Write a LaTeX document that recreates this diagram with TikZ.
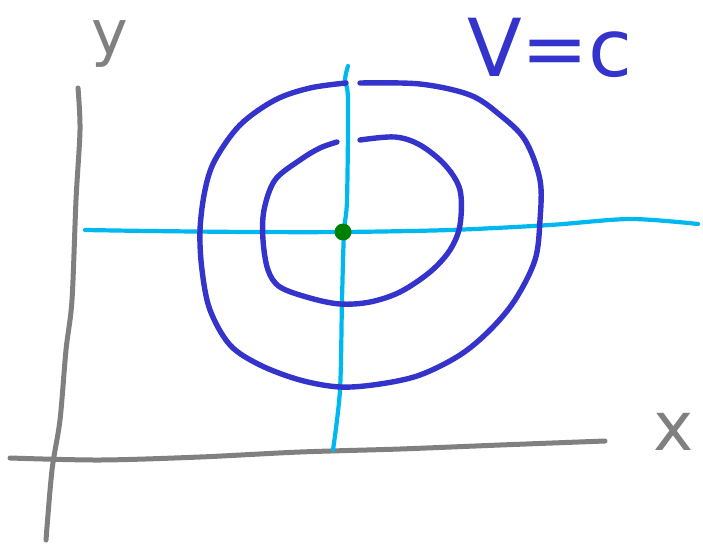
\documentclass[tikz,border=0pt]{standalone}
\usepackage{fontspec}
\setsansfont{DejaVu Sans}
\definecolor{penblue}{RGB}{52,52,204}
\definecolor{pengray}{RGB}{128,128,128}
\definecolor{pencyan}{RGB}{0,184,240}
\definecolor{pengreen}{RGB}{0,128,0}
\tikzset{
  stroke/.style={line width=5.4pt, line cap=round, line join=round},
  axisline/.style={stroke, line width=5pt, draw=pengray},
  crossline/.style={stroke, line width=4.2pt, draw=pencyan},
  ring/.style={stroke, draw=penblue},
  hand/.style={font=\sffamily\fontsize{#1}{#1}\selectfont, inner sep=0pt}
}
\begin{document}
\begin{tikzpicture}[x=1pt, y=-1pt]
\useasboundingbox (0,0) rectangle (703,544);
% axes
\draw[axisline] plot[smooth, tension=0.5] coordinates {(78,88) (80,130) (76,200) (72,300) (66,350) (60,420) (52,470) (46,540)};
\draw[axisline] plot[smooth, tension=0.5] coordinates {(10,458) (100,460) (200,457) (300,452) (400,449) (500,445) (605,441)};
% cyan cross
\draw[crossline] plot[smooth, tension=0.5] coordinates {(85,230) (150,231) (250,232) (343,232) (450,230) (550,225) (630,219) (698,224)};
\draw[crossline] plot[smooth, tension=0.5] coordinates {(348,66) (345,80) (348,100) (347,200) (344,232) (342,300) (340,390) (333,450)};
% outer ring
\draw[ring] plot[smooth, tension=0.55] coordinates {(360,83) (420,84) (470,95) (500,115) (525,140) (540,180) (540,220) (535,260) (515,300) (490,330) (460,355) (420,375) (380,384) (340,387) (300,380) (260,365) (230,345) (210,310) (202,270) (200,230) (205,190) (215,160) (240,125) (275,100) (310,88) (346,83)};
% inner ring
\draw[ring] plot[smooth, tension=0.55] coordinates {(360,140) (395,137) (420,145) (445,165) (460,190) (460,225) (450,250) (430,272) (400,292) (370,302) (340,304) (310,298) (280,287) (268,270) (263,240) (264,210) (275,180) (300,160) (320,148) (337,142)};
% centre
\node[circle, fill=pengreen, minimum size=17pt, inner sep=0pt] (centre) at (343,232) {};
% labels
\node[hand=62, text=pengray] (ylab) at (110,44) {y};
\node[hand=68, text=pengray] (xlab) at (674,432) {x};
\node[hand=80, text=penblue] (vlab) at (550,48) {V=c};
\end{tikzpicture}
\end{document}
